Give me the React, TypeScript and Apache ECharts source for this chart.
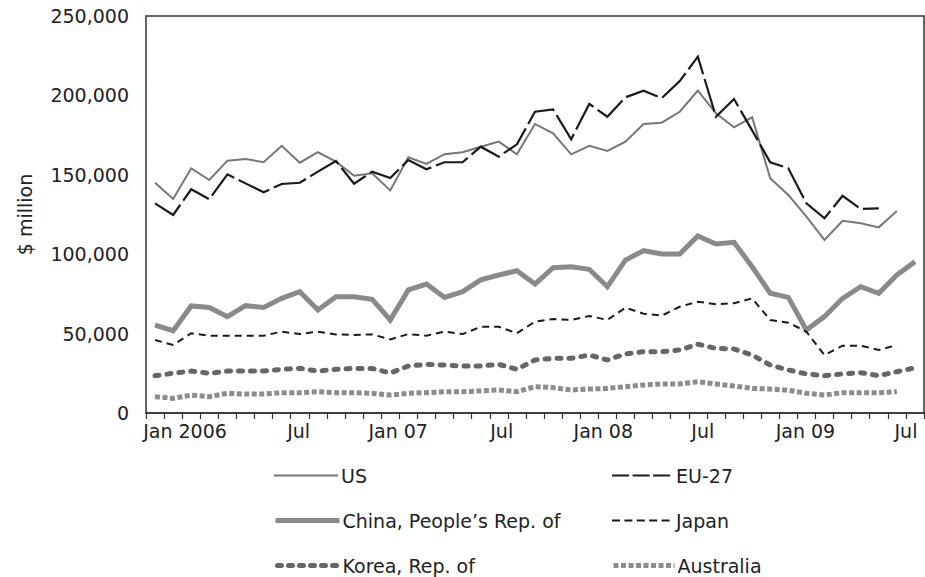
import React, { useEffect, useRef } from "react";
import * as echarts from "echarts";

const months = [
  "Jan 2006", "Feb", "Mar", "Apr", "May", "Jun", "Jul", "Aug", "Sep", "Oct", "Nov", "Dec",
  "Jan 07", "Feb", "Mar", "Apr", "May", "Jun", "Jul", "Aug", "Sep", "Oct", "Nov", "Dec",
  "Jan 08", "Feb", "Mar", "Apr", "May", "Jun", "Jul", "Aug", "Sep", "Oct", "Nov", "Dec",
  "Jan 09", "Feb", "Mar", "Apr", "May", "Jun", "Jul",
];

const us = [
  145.0, 134.8, 154.1, 146.7, 158.9, 160.0, 157.9, 168.3, 157.6, 164.2, 158.3, 149.4,
  150.9, 140.2, 161.0, 156.8, 163.0, 164.2, 167.7, 170.9, 162.9, 182.0, 176.1, 162.9,
  168.3, 165.0, 170.9, 182.0, 182.8, 189.7, 203.0, 188.7, 179.9, 186.2, 147.8, 137.3,
  123.6, 109.0, 121.1, 119.5, 116.9, 127.2, null,
];
const eu = [
  132.0, 124.7, 140.9, 134.6, 150.3, 144.6, 139.0, 144.2, 145.0, 152.0, 158.7, 144.4,
  152.0, 148.0, 159.3, 153.5, 157.9, 157.9, 167.7, 161.4, 169.2, 189.7, 191.2, 172.4,
  194.6, 186.6, 198.8, 203.0, 198.2, 209.0, 224.4, 186.6, 197.7, 178.0, 157.9, 154.1,
  132.0, 122.6, 136.8, 128.5, 128.9, null, null,
];
const china = [
  55.4, 51.8, 67.4, 66.5, 60.7, 67.6, 66.5, 72.2, 76.4, 64.9, 73.2, 73.2,
  71.6, 58.6, 77.5, 81.2, 72.8, 76.4, 83.8, 86.9, 89.6, 81.2, 91.5, 92.1,
  90.5, 79.5, 96.3, 102.2, 100.1, 100.1, 111.5, 106.4, 107.5, 92.1, 75.4, 72.8,
  52.3, 60.7, 72.2, 79.5, 75.4, 86.9, 95.3,
];
const japan = [
  46.0, 42.8, 50.2, 48.7, 48.7, 48.7, 48.7, 51.2, 49.7, 51.2, 49.5, 49.1,
  49.5, 46.3, 49.7, 48.7, 51.2, 49.7, 54.3, 54.3, 50.2, 57.5, 59.2, 58.6,
  61.1, 58.6, 66.3, 62.5, 61.3, 66.9, 70.1, 68.5, 69.1, 72.2, 58.6, 56.9,
  51.2, 36.5, 42.4, 42.4, 39.7, 42.8, null,
];
const korea = [
  23.5, 25.0, 26.4, 25.0, 26.4, 26.4, 26.4, 27.5, 28.1, 26.4, 27.5, 28.1,
  28.1, 25.2, 29.6, 30.6, 30.2, 29.6, 29.6, 30.6, 27.5, 33.4, 34.4, 34.4,
  36.5, 33.4, 37.2, 38.6, 38.6, 39.7, 43.3, 40.7, 40.3, 36.5, 30.2, 27.1,
  24.6, 23.5, 24.6, 25.4, 23.5, 26.0, 28.5,
];
const australia = [
  10.3, 9.2, 11.3, 10.3, 12.4, 11.9, 11.9, 12.8, 12.8, 13.4, 12.8, 12.8,
  12.4, 11.3, 12.4, 12.8, 13.4, 13.4, 13.9, 14.5, 13.4, 16.6, 16.0, 14.5,
  15.1, 15.5, 16.6, 17.6, 18.3, 18.3, 19.7, 18.3, 17.0, 15.5, 15.1, 14.3,
  12.4, 11.3, 12.8, 12.8, 12.8, 13.4, null,
];

const toMillions = (arr: (number | null)[]) => arr.map((v) => (v == null ? null : Math.round(v * 1000)));

const FONT = "'DejaVu Sans', sans-serif";
const FS = 19;
const TXT = "#222222";

// horizontal nudges of the x labels (the source spaces its month labels slightly tighter than the months)
const labelShift = [30, 35, 26, 21, 14, 5, -1, -9];

type Def = {
  name: string;
  data: (number | null)[];
  color: string;
  width: number;
  type: any;
  legendType: any;
  cap?: any;
  legendLeft: number;
  legendTop: number;
  iconW: number;
};

export default function App() {
  const ref = useRef<HTMLDivElement>(null);

  useEffect(() => {
    if (!ref.current) return;
    const chart = echarts.init(ref.current, undefined, { renderer: "svg" });

    const defs: Def[] = [
      { name: "US", data: us, color: "#777777", width: 2, type: "solid", legendType: "solid", legendLeft: 273, legendTop: 466, iconW: 64 },
      { name: "EU-27", data: eu, color: "#1a1a1a", width: 2.2, type: [34, 5], legendType: [17, 3.5], legendLeft: 611, legendTop: 466, iconW: 61 },
      { name: "China, People\u2019s Rep. of", data: china, color: "#8a8a8a", width: 5, type: "solid", legendType: "solid", legendLeft: 273, legendTop: 511, iconW: 64 },
      { name: "Japan", data: japan, color: "#1a1a1a", width: 2, type: [7, 5], legendType: [8, 4.4], legendLeft: 611, legendTop: 511, iconW: 61 },
      { name: "Korea, Rep. of", data: korea, color: "#666666", width: 5, type: [4, 8], legendType: [4, 7], cap: "round", legendLeft: 275, legendTop: 556, iconW: 62 },
      { name: "Australia", data: australia, color: "#8c8c8c", width: 5, type: [5, 2.5], legendType: [5, 2.5], legendLeft: 611, legendTop: 556, iconW: 61 },
    ];

    const rich: Record<string, any> = {};
    labelShift.forEach((s, i) => {
      rich["o" + i] = {
        fontFamily: FONT,
        fontSize: FS,
        color: TXT,
        padding: s >= 0 ? [0, 0, 0, 2 * s] : [0, -2 * s, 0, 0],
      };
    });

    chart.setOption({
      animation: false,
      backgroundColor: "#ffffff",
      grid: {
        left: 146,
        right: 1,
        top: 16,
        bottom: 164,
        show: true,
        borderColor: "#333",
        borderWidth: 1.5,
      },
      xAxis: {
        type: "category",
        data: months,
        boundaryGap: true,
        axisLine: { lineStyle: { color: "#333", width: 1.5 } },
        axisTick: { show: true, interval: 0, length: 6, lineStyle: { color: "#333", width: 1.2 } },
        axisLabel: {
          interval: 5,
          fontFamily: FONT,
          fontSize: FS,
          color: TXT,
          margin: 8,
          formatter: (v: string, i: number) => `{o${Math.floor(i / 6)}|${v}}`,
          rich,
        },
        splitLine: { show: false },
      },
      yAxis: {
        type: "value",
        min: 0,
        max: 250000,
        interval: 50000,
        name: "$ million",
        nameLocation: "middle",
        nameGap: 112,
        nameTextStyle: { fontFamily: FONT, fontSize: FS, color: TXT },
        axisLine: { show: true, lineStyle: { color: "#666", width: 1.5 } },
        axisTick: { show: false },
        splitLine: { show: false },
        axisLabel: {
          fontFamily: FONT,
          fontSize: FS,
          color: TXT,
          margin: 17,
          formatter: (v: number) => v.toLocaleString("en-US"),
        },
      },
      legend: defs.map((d) => ({
        data: [
          {
            name: d.name,
            lineStyle: { color: d.color, width: d.width, type: d.legendType, cap: d.cap || "butt" },
            itemStyle: { opacity: 0 },
          },
        ],
        left: d.legendLeft,
        top: d.legendTop,
        padding: 0,
        itemWidth: d.iconW,
        itemHeight: 14,
        textStyle: { fontFamily: FONT, fontSize: FS, color: TXT, padding: [0, 0, 0, -2] },
        selectedMode: false,
      })),
      series: defs.map((d) => ({
        name: d.name,
        type: "line",
        data: toMillions(d.data),
        symbol: "none",
        connectNulls: false,
        lineStyle: { color: d.color, width: d.width, type: d.type, cap: d.cap || "butt", join: "miter" },
        itemStyle: { color: d.color },
      })),
    });

    return () => chart.dispose();
  }, []);

  return (
    <div
      ref={ref}
      style={{ position: "fixed", left: 0, top: 0, width: 925, height: 577, background: "#fff" }}
    />
  );
}
